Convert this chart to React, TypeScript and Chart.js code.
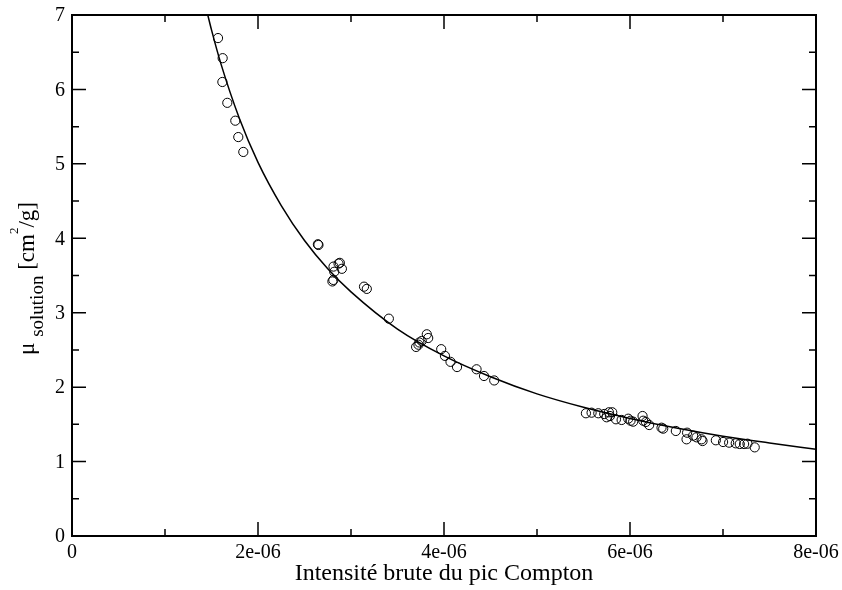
import React, { useEffect, useRef } from "react";
import { Chart, registerables } from "chart.js";

Chart.register(...registerables);

// x values in units of 1e-6
const X_TICKS = [0, 2, 4, 6, 8];
const X_TICK_LABELS = ["0", "2e-06", "4e-06", "6e-06", "8e-06"];
const X_MINOR = [1, 3, 5, 7];
const Y_TICKS = [0, 1, 2, 3, 4, 5, 6, 7];
const Y_TICK_LABELS = ["0", "1", "2", "3", "4", "5", "6", "7"];
const Y_MINOR = [0.5, 1.5, 2.5, 3.5, 4.5, 5.5, 6.5];

const X_TITLE = "Intensité brute du pic Compton";

// fitted curve
const FIT_X = [1.46, 1.5, 1.6, 1.8, 2.0, 2.25, 2.5, 2.75, 3.0, 3.5, 4.0, 4.5, 5.0, 5.5, 6.0, 6.5, 7.0, 7.5, 8.0];
const FIT_Y = [7.0, 6.8, 6.35, 5.61, 5.02, 4.44, 3.97, 3.59, 3.28, 2.78, 2.42, 2.14, 1.91, 1.73, 1.58, 1.45, 1.34, 1.25, 1.165];

// measured points
const OBS_X = [
  1.57, 1.62, 1.617, 1.67, 1.756, 1.788, 1.842,
  2.644, 2.65, 2.80, 2.81, 2.82, 2.812, 2.866, 2.88, 2.902, 3.14, 3.17, 3.407,
  3.70, 3.725, 3.735, 3.76, 3.815, 3.83, 3.97, 4.01, 4.07, 4.14, 4.35, 4.43, 4.54,
  5.526, 5.587, 5.659, 5.723, 5.749, 5.773, 5.809, 5.784, 5.849, 5.910, 5.981, 6.006, 6.034,
  6.135, 6.142, 6.171, 6.206, 6.339, 6.357, 6.493, 6.614, 6.608, 6.679, 6.715, 6.769, 6.780,
  6.923, 7.001, 7.066, 7.137, 7.180, 7.227, 7.263, 7.341,
];
const OBS_Y = [
  6.69, 6.42, 6.10, 5.82, 5.58, 5.36, 5.16,
  3.92, 3.91, 3.42, 3.44, 3.55, 3.62, 3.66, 3.67, 3.59, 3.35, 3.32, 2.92,
  2.54, 2.57, 2.60, 2.62, 2.71, 2.66, 2.51, 2.42, 2.34, 2.27, 2.24, 2.15, 2.09,
  1.649, 1.657, 1.649, 1.639, 1.595, 1.662, 1.662, 1.612, 1.568, 1.559, 1.576, 1.549, 1.536,
  1.612, 1.549, 1.532, 1.491, 1.455, 1.442, 1.411, 1.388, 1.299, 1.348, 1.326, 1.299, 1.276,
  1.286, 1.263, 1.254, 1.245, 1.236, 1.236, 1.240, 1.191,
];

const SERIF = '"Liberation Serif", "Times New Roman", serif';

const framePlugin = {
  id: "xmgraceFrame",
  afterDraw(chart: any) {
    const ctx = chart.ctx;
    const { left, right, top, bottom } = chart.chartArea;
    const xs = chart.scales.x;
    const ys = chart.scales.y;
    ctx.save();
    ctx.strokeStyle = "#000";
    ctx.fillStyle = "#000";
    ctx.lineWidth = 2;
    ctx.strokeRect(left, top, right - left, bottom - top);

    const major = 14;
    const minor = 7;
    ctx.lineWidth = 1.5;
    ctx.beginPath();
    const xt = (v: number, len: number) => {
      const px = xs.getPixelForValue(v);
      ctx.moveTo(px, bottom);
      ctx.lineTo(px, bottom - len);
      ctx.moveTo(px, top);
      ctx.lineTo(px, top + len);
    };
    const yt = (v: number, len: number) => {
      const py = ys.getPixelForValue(v);
      ctx.moveTo(left, py);
      ctx.lineTo(left + len, py);
      ctx.moveTo(right, py);
      ctx.lineTo(right - len, py);
    };
    X_TICKS.forEach((v) => xt(v, major));
    X_MINOR.forEach((v) => xt(v, minor));
    Y_TICKS.forEach((v) => yt(v, major));
    Y_MINOR.forEach((v) => yt(v, minor));
    ctx.stroke();

    // tick labels
    ctx.font = `20px ${SERIF}`;
    ctx.textAlign = "center";
    ctx.textBaseline = "alphabetic";
    X_TICKS.forEach((v, i) => {
      ctx.fillText(X_TICK_LABELS[i], xs.getPixelForValue(v), 558);
    });
    ctx.textAlign = "right";
    ctx.textBaseline = "middle";
    Y_TICKS.forEach((v, i) => {
      ctx.fillText(Y_TICK_LABELS[i], left - 7, ys.getPixelForValue(v) + 1);
    });

    // x title
    ctx.font = `24px ${SERIF}`;
    ctx.textAlign = "center";
    ctx.textBaseline = "alphabetic";
    ctx.fillText(X_TITLE, (left + right) / 2, 580);

    // y title with subscript / superscript
    const mainFont = `23px ${SERIF}`;
    const subFont = `19px ${SERIF}`;
    const supFont = `13px ${SERIF}`;
    const parts = [
      { t: "\u03bc", f: mainFont, dy: 0 },
      { t: " ", f: mainFont, dy: 0 },
      { t: "solution", f: subFont, dy: 9 },
      { t: " ", f: mainFont, dy: 0 },
      { t: "[cm", f: mainFont, dy: 0 },
      { t: "2", f: supFont, dy: -16 },
      { t: "/g]", f: mainFont, dy: 0 },
    ];
    let total = 0;
    const widths = parts.map((p) => {
      ctx.font = p.f;
      const w = ctx.measureText(p.t).width;
      total += w;
      return w;
    });
    ctx.translate(34, (top + bottom) / 2 + 3);
    ctx.rotate(-Math.PI / 2);
    ctx.textAlign = "left";
    ctx.textBaseline = "alphabetic";
    let x = -total / 2;
    parts.forEach((p, i) => {
      ctx.font = p.f;
      ctx.fillText(p.t, x, p.dy);
      x += widths[i];
    });
    ctx.restore();
  },
};

export default function App() {
  const ref = useRef<HTMLCanvasElement | null>(null);
  useEffect(() => {
    document.body.style.margin = "0";
    const canvas = ref.current;
    if (!canvas) return;
    const fit = FIT_X.map((x, i) => ({ x, y: FIT_Y[i] }));
    const obs = OBS_X.map((x, i) => ({ x, y: OBS_Y[i] }));
    const chart = new Chart(canvas, {
      type: "scatter",
      data: {
        datasets: [
          {
            label: "fit",
            data: fit,
            showLine: true,
            borderColor: "#000",
            borderWidth: 1.5,
            pointRadius: 0,
            cubicInterpolationMode: "monotone",
            fill: false,
          } as any,
          {
            label: "data",
            data: obs,
            showLine: false,
            borderColor: "#000",
            backgroundColor: "rgba(0,0,0,0)",
            borderWidth: 1,
            pointRadius: 4.6,
            pointStyle: "circle",
          } as any,
        ],
      },
      options: {
        animation: false,
        responsive: true,
        maintainAspectRatio: false,
        layout: { padding: { left: 72, right: 26, top: 15, bottom: 54 } },
        plugins: {
          legend: { display: false },
          tooltip: { enabled: false },
        },
        scales: {
          x: { type: "linear", min: 0, max: 8, display: false },
          y: { type: "linear", min: 0, max: 7, display: false },
        },
      },
      plugins: [framePlugin],
    });
    return () => chart.destroy();
  }, []);
  return (
    <div style={{ width: 842, height: 590, position: "relative", background: "#fff" }}>
      <canvas ref={ref} />
    </div>
  );
}
